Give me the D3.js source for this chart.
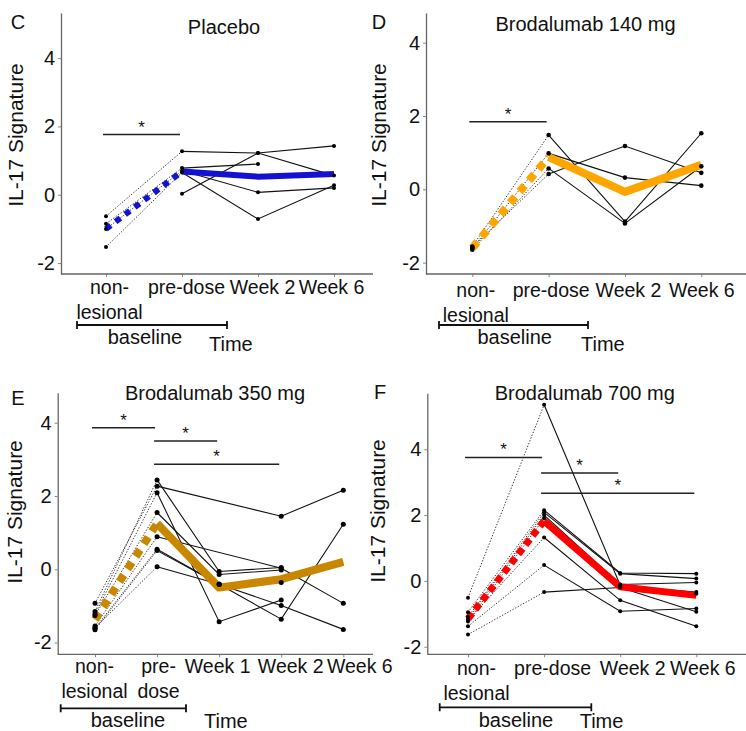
<!DOCTYPE html>
<html>
<head>
<meta charset="utf-8">
<script src="https://cdn.jsdelivr.net/npm/d3@7"></script>
<style>
body { margin: 0; background: #fff; }
svg { display: block; }
text { font-family: "Liberation Sans", Arial, sans-serif; fill: #111; }
</style>
</head>
<body>
<svg width="746" height="731"></svg>
<script>
let svg = d3.select("svg");

// x categories, one entry per label line
let timesFour = [["non-", "lesional"], ["pre-dose"], ["Week 2"], ["Week 6"]];
let timesFive = [["non-", "lesional"], ["pre-", "dose"], ["Week 1"], ["Week 2"], ["Week 6"]];
let yTicks = [-2, 0, 2, 4];

// IL-17 signature per patient (rows), per time point (cols); null = not measured
let placebo = [
    [-0.63, 1.27, 1.22, 0.56],
    [-0.85, 0.78, 0.90, null],
    [null, 0.03, 1.22, 1.43],
    [-1.00, 0.70, 0.07, 0.20],
    [-1.53, 0.65, -0.71, 0.28]
];
let placeboMean = [-1.00, 0.68, 0.53, 0.61];
let placeboSig = [[0, 1, 1.76]];

let dose140 = [
    [-1.56, 1.48, -0.88, 1.53],
    [-1.61, 0.98, 0.32, 0.10],
    [-1.65, 0.57, -0.93, 0.63],
    [-1.58, 0.42, 1.18, 0.45]
];
let dose140Mean = [-1.60, 0.88, -0.07, 0.67];
let dose140Sig = [[0, 1, 1.84]];

let dose350 = [
    [-0.93, 2.27, null, 1.45, 2.16],
    [-1.15, 2.44, -0.06, 0.05, null],
    [-1.22, 2.09, -1.43, -0.84, null],
    [-1.26, 1.55, -0.14, -0.02, null],
    [-1.55, 0.89, null, 0.03, -0.93],
    [-1.61, 0.55, -0.41, -0.99, -1.64],
    [-1.65, 0.51, -0.41, -1.36, 1.23],
    [-1.60, 0.07, -0.41, -0.36, null]
];
let dose350Mean = [-1.37, 1.25, -0.50, -0.27, 0.20];
let dose350Sig = [[0, 1, 3.86], [1, 2, 3.50], [1, 3, 2.87]];

let dose700 = [
    [-0.51, 5.35, -0.13, -0.39],
    [-0.95, 2.15, 0.24, 0.22],
    [-1.10, 2.08, 0.22, 0.07],
    [-1.16, 2.00, -0.11, -0.05],
    [-1.23, 1.90, -0.16, -0.34],
    [-1.20, 1.32, -0.59, -1.38],
    [-1.38, 0.48, -0.92, -0.84],
    [-1.63, -0.34, -0.20, -0.94]
];
let dose700Mean = [-1.15, 1.82, -0.18, -0.44];
let dose700Sig = [[0, 1, 3.75], [1, 2, 3.28], [1, 3, 2.66]];

let panels = [
    {letter: "C", title: "Placebo", times: timesFour, values: placebo, mean: placeboMean, sig: placeboSig,
     color: "#1212d0", meanW: 6, dash: "6,6", r: 2,
     axisX: 61, right: 373, top: 13, bottom: 274, yDomain: [-2.32, 5.32], xRange: [106, 334],
     tickPad: 3, labelShift: [3, 4, 4, -3],
     letterPos: [18, 29], titlePos: [224, 34], yTitlePos: [23, 135],
     bracket: [77, 227, 325], basePos: [145, 344], timePos: [209, 351]},
    {letter: "D", title: "Brodalumab 140 mg", times: timesFour, values: dose140, mean: dose140Mean, sig: dose140Sig,
     color: "#ffa500", meanW: 8, dash: "8,6.7", r: 2.3,
     axisX: 426, right: 746, top: 13, bottom: 274, yDomain: [-2.31, 4.81], xRange: [472.3, 701.3],
     tickPad: 6, labelShift: [3, 2, 3, 0],
     letterPos: [379, 29], titlePos: [585.5, 31], yTitlePos: [386, 135],
     bracket: [439, 588, 325], basePos: [514.7, 344], timePos: [581, 351]},
    {letter: "E", title: "Brodalumab 350 mg", times: timesFive, values: dose350, mean: dose350Mean, sig: dose350Sig,
     color: "#c98700", meanW: 8, dash: "8,7", r: 2.5,
     axisX: 57.7, right: 373, top: 392.7, bottom: 654.3, yDomain: [-2.32, 4.82], xRange: [95, 343.3],
     tickPad: 2, labelShift: [-1, 1, -2, 9, 16],
     letterPos: [18, 405], titlePos: [215, 400], yTitlePos: [22, 512],
     bracket: [60.7, 186, 708.3], basePos: [128, 727], timePos: [204, 728]},
    {letter: "F", title: "Brodalumab 700 mg", times: timesFour, values: dose700, mean: dose700Mean, sig: dose700Sig,
     color: "#ff0000", meanW: 7, dash: "7,4.7", r: 2,
     axisX: 427.3, right: 746, top: 393.3, bottom: 654.3, yDomain: [-2.23, 5.70], xRange: [468, 696.3],
     tickPad: 4, labelShift: [8, 8, 12, 6],
     letterPos: [380, 399], titlePos: [584.7, 400], yTitlePos: [385, 511],
     bracket: [439.7, 591.3, 707.3], basePos: [516, 727], timePos: [579.7, 728]}
];

panels.forEach(drawPanel);

function drawPanel(p) {
    let g = svg.append("g");
    let x = d3.scalePoint().domain(d3.range(p.times.length)).range(p.xRange);
    let y = d3.scaleLinear().domain(p.yDomain).range([p.bottom, p.top]);

    // y axis
    let gy = g.append("g")
        .attr("transform", `translate(${p.axisX},0)`)
        .call(d3.axisLeft(y).tickValues(yTicks).tickSize(3).tickSizeOuter(0).tickPadding(3).tickFormat(d => String(d)));
    gy.attr("font-family", null).attr("font-size", null);
    gy.select(".domain").attr("stroke", "#666").attr("stroke-width", 1.3);
    gy.selectAll(".tick line").attr("stroke", "#888");
    gy.selectAll(".tick text").style("font-size", "20px").attr("fill", "#111");

    // x axis
    let gx = g.append("g")
        .attr("transform", `translate(0,${p.bottom})`)
        .call(d3.axisBottom(x).tickSize(3).tickSizeOuter(0).tickPadding(p.tickPad));
    gx.attr("font-family", null).attr("font-size", null);
    gx.select(".domain").remove();
    gx.append("line")
        .attr("x1", p.axisX).attr("x2", p.right)
        .attr("stroke", "#666").attr("stroke-width", 1.3);
    gx.selectAll(".tick line").attr("stroke", "#888");
    gx.selectAll(".tick text").each(function(i) {
        let t = d3.select(this).text(null).style("font-size", "19.5px").attr("fill", "#111");
        p.times[i].forEach((s, k) => {
            let ts = t.append("tspan").attr("x", p.labelShift[i]).text(s);
            if (k > 0) ts.attr("dy", 25);
        });
    });

    // subject lines: dotted from non-lesional to pre-dose, solid afterwards
    p.values.forEach(row => {
        if (row[0] != null && row[1] != null) {
            g.append("line")
                .attr("x1", x(0)).attr("y1", y(row[0]))
                .attr("x2", x(1)).attr("y2", y(row[1]))
                .attr("stroke", "#333").attr("stroke-width", 1)
                .attr("stroke-dasharray", "1.3,1.7");
        }
        let pts = row.map((v, i) => [i, v]).filter(d => d[0] >= 1 && d[1] != null);
        g.append("path")
            .attr("d", d3.line().x(d => x(d[0])).y(d => y(d[1]))(pts))
            .attr("fill", "none").attr("stroke", "#111").attr("stroke-width", 1.1);
    });

    // group mean
    g.append("line")
        .attr("x1", x(0)).attr("y1", y(p.mean[0]))
        .attr("x2", x(1)).attr("y2", y(p.mean[1]))
        .attr("stroke", p.color).attr("stroke-width", p.meanW)
        .attr("stroke-dasharray", p.dash);
    let meanPts = p.mean.map((v, i) => [i, v]).slice(1);
    g.append("path")
        .attr("d", d3.line().x(d => x(d[0])).y(d => y(d[1]))(meanPts))
        .attr("fill", "none").attr("stroke", p.color).attr("stroke-width", p.meanW)
        .attr("stroke-linejoin", "round");

    // points
    p.values.forEach(row => {
        row.forEach((v, i) => {
            if (v == null) return;
            g.append("circle").attr("cx", x(i)).attr("cy", y(v)).attr("r", p.r).attr("fill", "#000");
        });
    });

    // significance bars
    p.sig.forEach(s => {
        let x0 = x(s[0]) - 3, x1 = x(s[1]) - 2;
        g.append("line")
            .attr("x1", x0).attr("x2", x1)
            .attr("y1", y(s[2])).attr("y2", y(s[2]))
            .attr("stroke", "#222").attr("stroke-width", 1.5);
        g.append("text")
            .attr("x", (x0 + x1) / 2).attr("y", y(s[2]) - 2)
            .attr("text-anchor", "middle")
            .style("font-size", "17px")
            .text("*");
    });

    // labels
    g.append("text")
        .attr("x", p.letterPos[0]).attr("y", p.letterPos[1])
        .attr("text-anchor", "middle").style("font-size", "20px")
        .text(p.letter);
    g.append("text")
        .attr("x", p.titlePos[0]).attr("y", p.titlePos[1])
        .attr("text-anchor", "middle").style("font-size", "20px")
        .text(p.title);
    g.append("text")
        .attr("transform", `translate(${p.yTitlePos[0]},${p.yTitlePos[1]}) rotate(-90)`)
        .attr("text-anchor", "middle").style("font-size", "21px")
        .text("IL-17 Signature");

    // baseline bracket
    let b = p.bracket;
    g.append("path")
        .attr("d", `M${b[0]},${b[2] - 4}V${b[2] + 4}M${b[0]},${b[2]}H${b[1]}M${b[1]},${b[2] - 4}V${b[2] + 4}`)
        .attr("fill", "none").attr("stroke", "#111").attr("stroke-width", 1.8);
    g.append("text")
        .attr("x", p.basePos[0]).attr("y", p.basePos[1])
        .attr("text-anchor", "middle").style("font-size", "20px")
        .text("baseline");
    g.append("text")
        .attr("x", p.timePos[0]).attr("y", p.timePos[1])
        .style("font-size", "20px")
        .text("Time");
}
</script>
</body>
</html>
